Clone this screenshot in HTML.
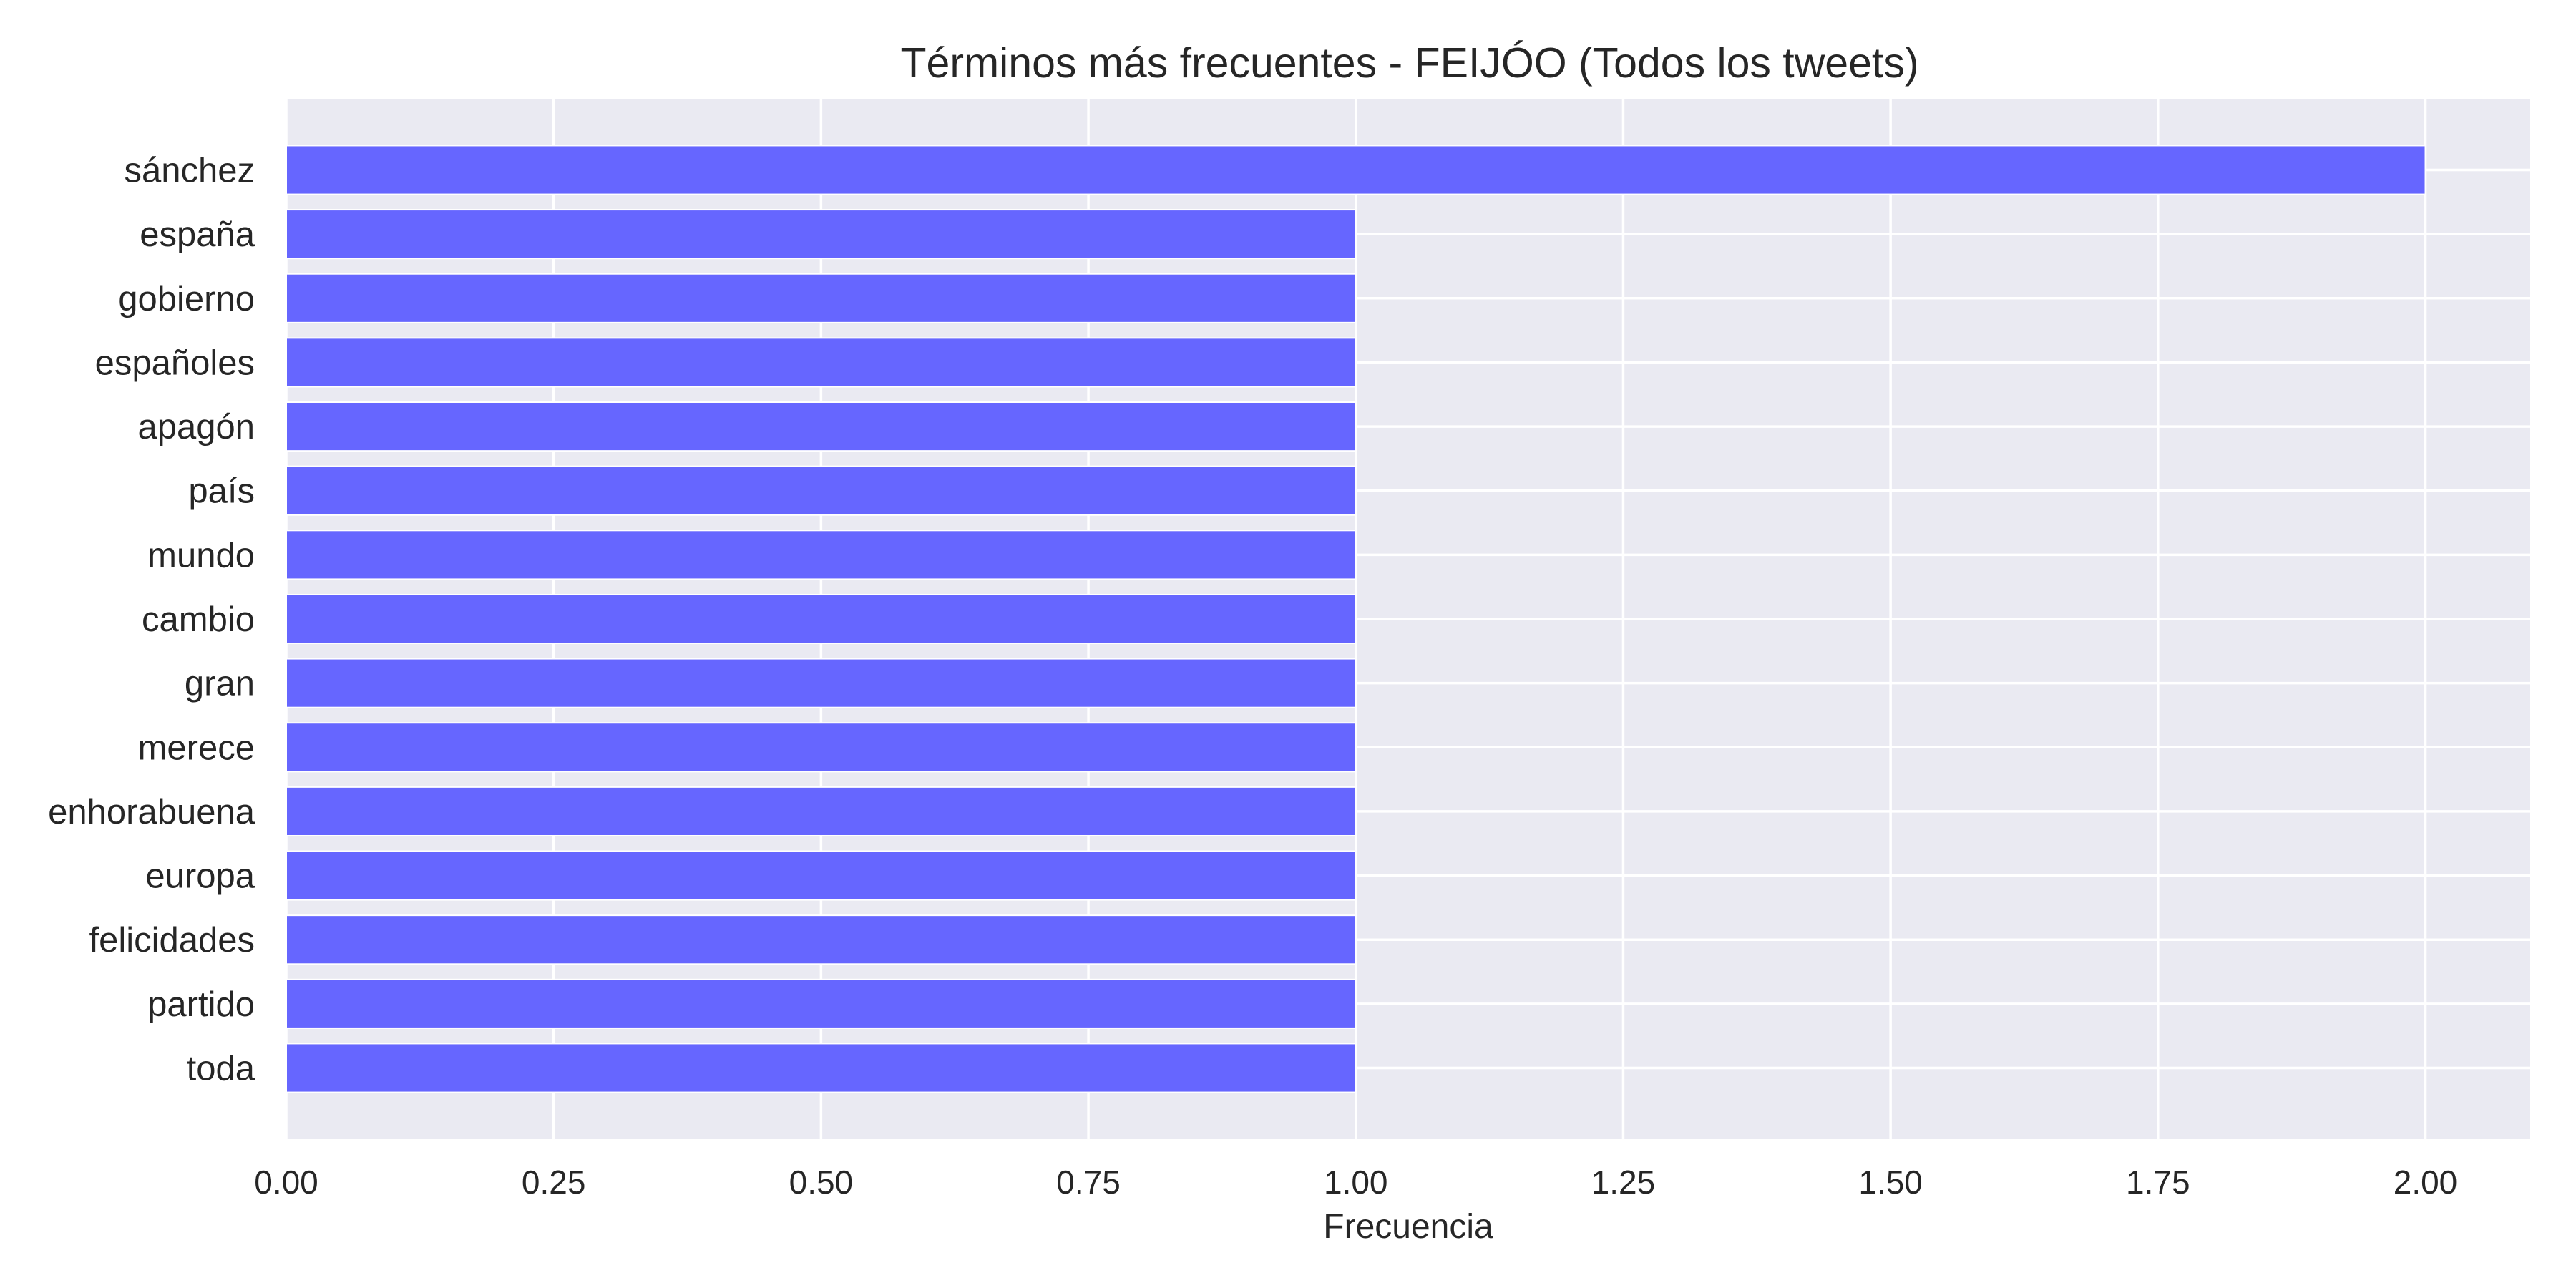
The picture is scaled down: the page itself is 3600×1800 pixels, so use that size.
<!DOCTYPE html>
<html><head><meta charset="utf-8">
<style>
html,body{margin:0;padding:0;background:#fff;}
svg{display:block;font-family:"Liberation Sans","DejaVu Sans",sans-serif;}
</style></head>
<body>
<svg id="chart" width="3600" height="1800" viewBox="0 0 3600 1800" xmlns="http://www.w3.org/2000/svg">
<rect x="0" y="0" width="3600" height="1800" fill="#ffffff"/>
<text x="1970" y="108" font-size="59" text-anchor="middle" fill="#262626">Términos más frecuentes - FEIJÓO (Todos los tweets)</text>
<rect id="plotbg" x="400" y="138" width="3136" height="1454" fill="#EAEAF2"/>
<g id="grid"></g>
<g id="bars"></g>
<g id="yticks"></g>
<g id="xticks"></g>
<text x="1968" y="1730" font-size="48" text-anchor="middle" fill="#262626">Frecuencia</text>
</svg>
<script>
const categories = ["sánchez","españa","gobierno","españoles","apagón","país","mundo","cambio","gran","merece","enhorabuena","europa","felicidades","partido","toda"];
const values = [2,1,1,1,1,1,1,1,1,1,1,1,1,1,1];
const xTicks = [0,0.25,0.5,0.75,1.0,1.25,1.5,1.75,2.0];
const xTickLabels = ["0.00","0.25","0.50","0.75","1.00","1.25","1.50","1.75","2.00"];

const NS="http://www.w3.org/2000/svg";
const L=400,R=3536,T=138,B=1592;
const xMax=2.098;
const yMin=-1.11,yMax=categories.length-1+1.11;
function xs(v){return L+(v/xMax)*(R-L);}
function ys(i){return T+((i-yMin)/(yMax-yMin))*(B-T);}
const step=(B-T)/(yMax-yMin);
const bh=step*0.76;
function mk(tag,attrs,parent){const e=document.createElementNS(NS,tag);for(const k in attrs)e.setAttribute(k,attrs[k]);parent.appendChild(e);return e;}
const grid=document.getElementById('grid'),bars=document.getElementById('bars'),yt=document.getElementById('yticks'),xt=document.getElementById('xticks');
xTicks.forEach((t,i)=>{
  const g=mk('line',{x1:xs(t),x2:xs(t),y1:T,y2:B,stroke:'#ffffff','stroke-width':3.5},grid);
  
  
  const tx=mk('text',{x:xs(t),y:1668,'font-size':46,'text-anchor':'middle',fill:'#262626'},xt);
  tx.textContent=xTickLabels[i];
  
  
});
categories.forEach((c,i)=>{
  const g=mk('line',{x1:L,x2:R,y1:ys(i),y2:ys(i),stroke:'#ffffff','stroke-width':3.5},grid);
  
  
  const b=mk('rect',{x:xs(0),y:ys(i)-bh/2,width:xs(values[i])-xs(0),height:bh,fill:'#6666FF',stroke:'#ffffff','stroke-width':2},bars);
  
  
  const tx=mk('text',{x:356,y:ys(i)+17,'font-size':49,'text-anchor':'end',fill:'#262626'},yt);
  tx.textContent=c;
  
  
});
</script>
</body></html>
